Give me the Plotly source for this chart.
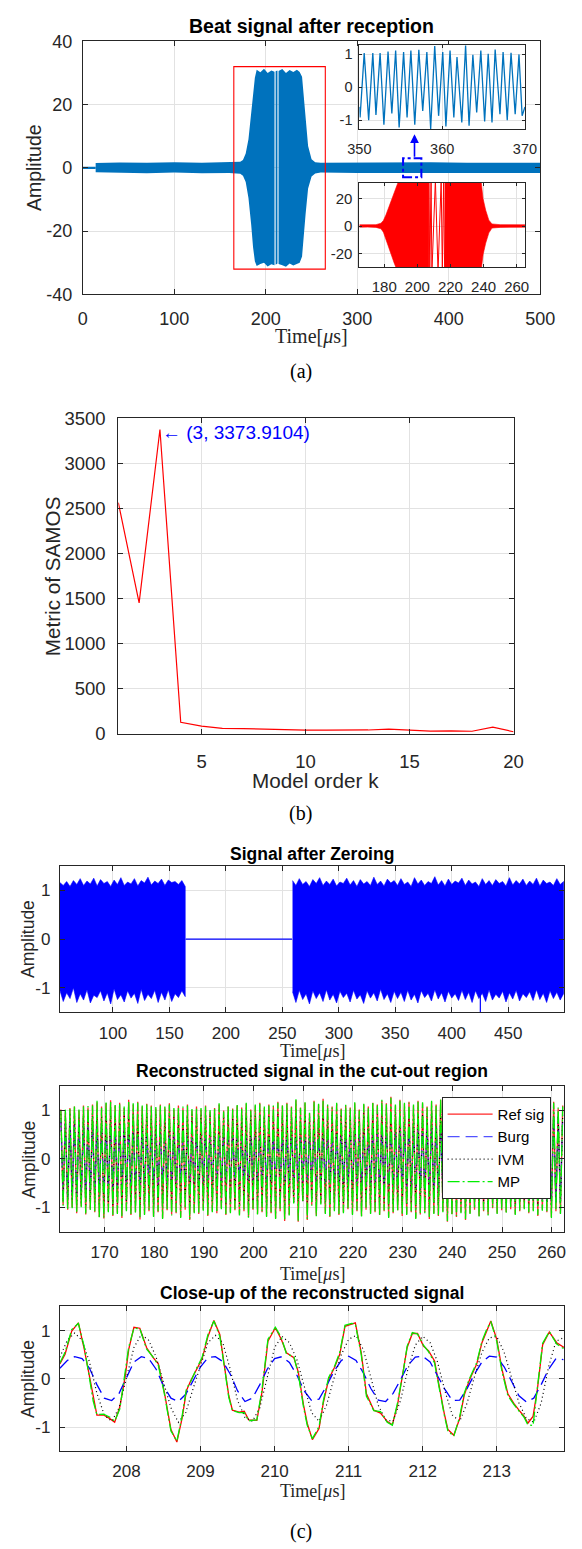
import numpy as np
import plotly.graph_objects as go

W, H = 582, 1549
FONT = "Liberation Sans, Arial, Helvetica, sans-serif"
SERIF = "Liberation Serif, Times New Roman, serif"
INK = "#262626"
GRID = "#e2e2e2"

# ======================= DATA =======================
# ---- (a) beat signal after reception: envelope of the dense signal (upper / lower extremes)
pre_t = [0, 14]
pre_v = [0, 0]
a1_t = [14, 40, 70, 100, 130, 160, 172, 175, 178, 181, 184, 186, 188, 190, 194, 198, 202, 206, 209.5]
a1_up = [1.5, 1.7, 1.6, 1.8, 1.6, 1.7, 1.9, 2.5, 4.5, 9.0, 17.0, 24.0, 28.5, 31.0, 30.2, 31.3, 30.0, 30.8, 30.4]
a1_lo = [-1.4, -1.6, -1.7, -1.5, -1.7, -1.6, -1.9, -2.5, -4.5, -9.5, -18.0, -25.0, -29.5, -31.0, -30.4, -30.0, -31.2, -30.5, -30.8]
a2_t = [210.7, 212.7]
a2_up = [30.5, 30.8]
a2_lo = [-30.6, -30.2]
a3_t = [213.9, 218, 222, 226, 230, 234, 237, 239.6, 241.2, 243.5, 246.2, 250, 254, 260, 300, 340, 380, 420, 460, 500]
a3_up = [30.6, 31.2, 30.0, 30.9, 30.3, 31.0, 30.3, 28.8, 23.5, 15.2, 6.9, 2.7, 1.8, 1.6, 1.7, 1.6, 1.8, 1.6, 1.7, 1.6]
a3_lo = [-30.4, -30.8, -31.3, -30.2, -30.9, -30.4, -30.0, -28.0, -22.5, -14.5, -6.5, -2.7, -1.8, -1.5, -1.6, -1.8, -1.6, -1.7, -1.6, -1.6]

# ---- (a) upper inset: 350-370 us (extrema of the waveform)
ins_t = [350.0, 350.08, 350.58, 351.12, 351.62, 352.0, 352.5, 352.96, 353.46, 353.92, 354.38, 354.8,
         355.34, 355.76, 356.22, 356.69, 357.18, 357.65, 358.15, 358.61, 359.1, 359.57, 360.07, 360.45,
         360.95, 361.41, 361.79, 362.37, 362.83, 363.25, 363.71, 364.17, 364.67, 365.13, 365.56, 366.02,
         366.4, 366.98, 367.36, 367.86, 368.32, 368.82, 369.28, 369.66, 370.0]
ins_v = [-0.6, -0.92, 1.03, -1.0, 1.03, -0.84, 1.03, -1.14, 1.08, -0.8, 1.11, -1.22,
         1.06, -0.92, 1.11, -1.14, 1.13, -0.72, 1.06, -1.27, 1.24, -0.87, 1.06, -1.19,
         1.11, -0.92, 0.91, -1.07, 1.26, -1.17, 0.98, -0.77, 1.11, -1.04, 1.01, -1.07,
         1.14, -0.82, 1.06, -1.0, 1.04, -0.82, 0.99, -0.87, -0.6]

# ---- (a) lower inset: 165-265 us (envelope + strokes in the notch)
r1_t = [165, 170, 175, 178, 179.5, 181, 183, 184.5, 186, 187.5, 189, 207.0]
r1_up = [0.9, 0.8, 1.0, 2.0, 4.0, 8.0, 14.5, 20.0, 25.0, 30.0, 34.0, 34.0]
r1_lo = [-0.9, -0.8, -1.0, -2.0, -4.5, -9.0, -16.0, -22.0, -27.0, -31.5, -34.0, -34.0]
rg_t = [207.0, 207.5, 208.3, 208.8, 210.9, 212.5, 214.4, 215.1, 215.9, 216.5]
rg_v = [34, -34, 34, -34, 34, -34, 34, -34, 34, -34]
r3_t = [216.5, 238.4, 239.7, 241.3, 243.2, 245.1, 250, 258, 265]
r3_up = [34.0, 34.0, 20.0, 11.5, 4.3, 1.5, 1.0, 0.9, 0.9]
r3_lo = [-34.0, -34.0, -21.0, -12.5, -5.0, -1.5, -1.0, -0.9, -0.9]
box_a = [165, 265, -32, 32]          # red selection box (t0, t1, y0, y1)
box_b = [350, 370, -3, 3]            # blue dashed selection box

# ---- (b) SAMOS metric vs model order
k_order = list(range(1, 21))
samos = [2563, 1451, 3373.9104, 128, 84, 59, 58, 50, 48, 40, 40, 40, 42, 52, 45, 30, 33, 28, 73, 22]

# ---- (c1) signal after zeroing: envelope of dense signal
z1_t = np.arange(53, 165, 3)
z1_up = [1.16, 1.10, 1.18, 1.08, 1.20, 1.12, 1.24, 1.10, 1.19, 1.13, 1.25, 1.09, 1.22, 1.14, 1.18, 1.08,
         1.21, 1.12, 1.26, 1.10, 1.17, 1.13, 1.24, 1.09, 1.20, 1.15, 1.27, 1.11, 1.19, 1.14, 1.23, 1.10,
         1.21, 1.16, 1.18, 1.12, 1.20, 1.08]
z1_lo = [-1.05, -1.28, -1.10, -1.22, -1.00, -1.30, -1.12, -1.25, -1.04, -1.31, -1.15, -1.20, -1.06, -1.27,
         -1.10, -1.33, -1.02, -1.24, -1.14, -1.29, -1.06, -1.21, -1.11, -1.32, -1.03, -1.26, -1.13, -1.22,
         -1.05, -1.30, -1.09, -1.25, -1.04, -1.28, -1.12, -1.20, -1.06, -1.18]
zero_t = [164.4, 258.5]
zero_v = [0, 0]
z2_t = np.arange(259, 500, 3)
z2_up = [1.20, 1.10, 1.24, 1.12, 1.18, 1.08, 1.22, 1.14, 1.26, 1.10,
         1.19, 1.12, 1.23, 1.09, 1.17, 1.14, 1.25, 1.11, 1.20, 1.08,
         1.22, 1.13, 1.18, 1.10, 1.27, 1.12, 1.19, 1.09, 1.23, 1.15,
         1.20, 1.10, 1.24, 1.12, 1.17, 1.08, 1.26, 1.13, 1.21, 1.10,
         1.18, 1.14, 1.28, 1.11, 1.20, 1.09, 1.23, 1.12, 1.19, 1.15,
         1.25, 1.10, 1.21, 1.13, 1.17, 1.08, 1.24, 1.12, 1.20, 1.10,
         1.22, 1.14, 1.18, 1.09, 1.26, 1.11, 1.20, 1.13, 1.23, 1.10,
         1.19, 1.12, 1.25, 1.09, 1.21, 1.14, 1.17, 1.10, 1.24, 1.12,
         1.18]
z2_lo = [-1.08, -1.30, -1.05, -1.24, -1.12, -1.33, -1.06, -1.22, -1.10, -1.28,
         -1.04, -1.25, -1.13, -1.31, -1.07, -1.20, -1.11, -1.29, -1.05, -1.23,
         -1.14, -1.32, -1.06, -1.21, -1.10, -1.27, -1.03, -1.24, -1.12, -1.30,
         -1.07, -1.22, -1.09, -1.28, -1.05, -1.25, -1.13, -1.31, -1.06, -1.20,
         -1.11, -1.27, -1.04, -1.23, -1.10, -1.29, -1.07, -1.21, -1.12, -1.26,
         -1.05, -1.24, -1.09, -1.30, -1.06, -1.22, -1.11, -1.28, -1.04, -1.25,
         -1.13, -1.21, -1.07, -1.29, -1.10, -1.23, -1.05, -1.27, -1.12, -1.20,
         -1.08, -1.26, -1.04, -1.24, -1.11, -1.30, -1.06, -1.22, -1.09, -1.25,
         -1.12]
spike_t = [425.3, 425.3]
spike_v = [0, -1.6]

# ---- (c2) reconstructed signals in the cut-out region: successive extrema
MID_T0, MID_HALF = 161.2, 0.455     # first extremum time, spacing between extrema (us)
ref_pk = [1.02, 0.98, 1.05, 1.08, 1.00, 1.10, 1.06, 1.12, 1.17, 1.08,
          1.15, 1.21, 1.10, 1.16, 1.05, 1.22, 1.12, 1.18, 1.08, 1.14,
          1.10, 1.04, 1.12, 1.06, 1.15, 1.02, 1.10, 1.05, 1.12, 1.00,
          1.08, 1.02, 1.10, 0.98, 1.05, 1.12, 1.00, 1.08, 1.04, 1.10,
          1.06, 1.14, 1.02, 1.10, 1.16, 1.05, 1.12, 1.08, 1.18, 1.10,
          1.16, 1.08, 1.21, 1.06, 1.16, 0.94, 1.20, 1.12, 1.24, 1.10,
          1.08, 1.14, 1.04, 1.10, 1.06, 1.15, 1.02, 1.12, 1.08, 1.16,
          1.12, 1.20, 1.15, 1.28, 1.10, 1.22, 1.14, 1.18, 1.10, 1.20,
          1.15, 1.08, 1.18, 1.12, 1.22, 1.06, 1.14, 1.10, 1.20, 1.08,
          1.12, 1.05, 1.15, 1.10, 1.20, 1.02, 1.12, 1.06, 1.14, 1.00,
          1.08, 1.04, 1.12, 1.06, 1.10, 1.00, 1.14, 1.05, 1.10, 1.18,
          1.04, 1.10]
ref_tr = [-0.95, -1.05, -1.00, -1.12, -0.98, -1.15, -1.04, -1.10, -1.20, -1.23,
          -1.08, -1.18, -1.12, -1.22, -1.06, -1.16, -1.10, -1.25, -1.14, -1.08,
          -1.18, -1.10, -1.22, -1.06, -1.15, -1.12, -1.20, -1.05, -1.26, -1.10,
          -1.14, -1.05, -1.18, -1.08, -1.12, -1.02, -1.16, -1.10, -1.06, -1.15,
          -1.08, -1.20, -1.05, -1.14, -1.10, -1.18, -1.12, -1.22, -1.08, -1.28,
          -1.15, -0.90, -1.30, -0.87, -1.26, -0.95, -1.17, -0.92, -1.12, -1.20,
          -1.06, -1.16, -1.10, -1.04, -1.14, -1.08, -1.18, -1.05, -1.12, -1.10,
          -1.16, -1.08, -1.20, -1.12, -1.06, -1.18, -1.14, -1.10, -1.22, -1.15,
          -1.10, -1.24, -1.12, -1.18, -1.08, -1.30, -1.14, -1.20, -1.10, -1.26,
          -1.12, -1.05, -1.18, -1.08, -1.15, -1.02, -1.12, -1.06, -1.10, -1.04,
          -1.14, -1.08, -1.02, -1.12, -1.06, -1.18, -1.05, -1.10, -1.20, -1.08,
          -1.12]
mp_pk = [1.00, 1.02, 1.03, 1.10, 1.02, 1.08, 1.09, 1.10, 1.20, 1.05,
         1.18, 1.19, 1.13, 1.14, 1.08, 1.20, 1.15, 1.16, 1.10, 1.12,
         1.08, 1.07, 1.10, 1.09, 1.12, 1.05, 1.08, 1.08, 1.10, 1.03,
         1.05, 1.05, 1.08, 1.01, 1.03, 1.15, 0.98, 1.10, 1.02, 1.13,
         1.04, 1.16, 1.00, 1.12, 1.14, 1.08, 1.10, 1.10, 1.16, 1.12,
         1.14, 1.06, 1.23, 1.05, 1.18, 0.95, 1.18, 1.14, 1.22, 1.12,
         1.06, 1.16, 1.02, 1.12, 1.04, 1.17, 1.00, 1.14, 1.06, 1.18,
         1.10, 1.22, 1.13, 1.26, 1.12, 1.20, 1.16, 1.16, 1.12, 1.18,
         1.17, 1.06, 1.20, 1.10, 1.24, 1.04, 1.16, 1.08, 1.22, 1.06,
         1.14, 1.03, 1.17, 1.08, 1.22, 1.00, 1.14, 1.04, 1.16, 0.98,
         1.10, 1.02, 1.14, 1.04, 1.12, 0.98, 1.16, 1.03, 1.12, 1.16,
         1.06, 1.08]
mp_tr = [-0.97, -1.03, -1.02, -1.10, -1.00, -1.13, -1.06, -1.08, -1.22, -1.21,
         -1.10, -1.16, -1.14, -1.20, -1.08, -1.14, -1.12, -1.23, -1.16, -1.06,
         -1.20, -1.08, -1.24, -1.04, -1.17, -1.10, -1.22, -1.03, -1.24, -1.12,
         -1.12, -1.07, -1.16, -1.10, -1.10, -1.04, -1.14, -1.12, -1.04, -1.17,
         -1.06, -1.22, -1.03, -1.16, -1.08, -1.20, -1.10, -1.24, -1.06, -1.26,
         -1.17, -0.92, -1.28, -0.89, -1.24, -0.97, -1.19, -0.94, -1.14, -1.18,
         -1.08, -1.14, -1.12, -1.02, -1.16, -1.06, -1.20, -1.03, -1.14, -1.08,
         -1.18, -1.06, -1.22, -1.10, -1.08, -1.16, -1.16, -1.08, -1.24, -1.13,
         -1.12, -1.22, -1.14, -1.16, -1.10, -1.28, -1.16, -1.18, -1.12, -1.24,
         -1.14, -1.03, -1.20, -1.06, -1.17, -1.00, -1.14, -1.04, -1.12, -1.02,
         -1.16, -1.06, -1.04, -1.10, -1.08, -1.16, -1.07, -1.08, -1.22, -1.06,
         -1.14]
burg_pk = [0.80, 0.74, 0.78, 0.70, 0.75, 0.68, 0.72, 0.65, 0.69, 0.62,
           0.66, 0.60, 0.63, 0.57, 0.61, 0.55, 0.58, 0.53, 0.56, 0.51,
           0.54, 0.50, 0.53, 0.48, 0.52, 0.47, 0.50, 0.46, 0.49, 0.45,
           0.48, 0.45, 0.47, 0.44, 0.48, 0.45, 0.46, 0.44, 0.47, 0.45,
           0.46, 0.44, 0.47, 0.45, 0.46, 0.44, 0.47, 0.46, 0.45, 0.46,
           0.46, 0.46, 0.45, 0.46, 0.47, 0.46, 0.47, 0.47, 0.46, 0.48,
           0.47, 0.49, 0.48, 0.50, 0.48, 0.51, 0.50, 0.52, 0.51, 0.54,
           0.52, 0.55, 0.54, 0.57, 0.55, 0.59, 0.57, 0.61, 0.59, 0.63,
           0.61, 0.65, 0.63, 0.67, 0.65, 0.69, 0.67, 0.71, 0.69, 0.73,
           0.71, 0.75, 0.73, 0.77, 0.75, 0.79, 0.77, 0.81, 0.79, 0.83,
           0.81, 0.85, 0.83, 0.86, 0.84, 0.88, 0.86, 0.89, 0.87, 0.90,
           0.88, 0.91]
burg_tr = [-0.76, -0.80, -0.72, -0.77, -0.69, -0.73, -0.66, -0.70, -0.63, -0.67,
           -0.60, -0.64, -0.58, -0.61, -0.55, -0.59, -0.53, -0.56, -0.51, -0.54,
           -0.49, -0.53, -0.48, -0.51, -0.47, -0.50, -0.46, -0.49, -0.45, -0.48,
           -0.46, -0.48, -0.45, -0.47, -0.44, -0.48, -0.45, -0.47, -0.46, -0.45,
           -0.47, -0.45, -0.46, -0.48, -0.45, -0.47, -0.46, -0.45, -0.48, -0.46,
           -0.45, -0.47, -0.48, -0.47, -0.45, -0.48, -0.48, -0.47, -0.49, -0.47,
           -0.48, -0.50, -0.49, -0.51, -0.50, -0.53, -0.51, -0.54, -0.53, -0.56,
           -0.54, -0.57, -0.56, -0.59, -0.57, -0.61, -0.59, -0.62, -0.61, -0.64,
           -0.62, -0.66, -0.64, -0.68, -0.66, -0.70, -0.68, -0.72, -0.70, -0.74,
           -0.72, -0.76, -0.74, -0.78, -0.76, -0.80, -0.78, -0.82, -0.80, -0.84,
           -0.82, -0.85, -0.84, -0.87, -0.85, -0.88, -0.86, -0.89, -0.88, -0.90,
           -0.89]
ivm_pk = [0.92, 0.88, 0.95, 0.90, 0.86, 0.93, 0.89, 0.94, 0.91, 0.87,
          0.95, 0.90, 0.92, 0.88, 0.96, 0.89, 0.93, 0.87, 0.91, 0.94,
          0.89, 0.92, 0.86, 0.90, 0.93, 0.88, 0.91, 0.85, 0.90, 0.92,
          0.87, 0.91, 0.88, 0.93, 0.86, 0.90, 0.89, 0.92, 0.88, 0.91,
          0.90, 0.87, 0.92, 0.89, 0.93, 0.88, 0.91, 0.90, 0.94, 0.89,
          0.92, 0.90, 0.90, 0.88, 0.90, 0.88, 0.88, 0.90, 0.90, 0.88,
          0.91, 0.89, 0.93, 0.87, 0.92, 0.90, 0.88, 0.94, 0.89, 0.91,
          0.93, 0.90, 0.95, 0.92, 0.97, 0.89, 0.94, 0.91, 0.93, 0.90,
          0.92, 0.88, 0.94, 0.90, 0.96, 0.87, 0.93, 0.89, 0.95, 0.88,
          0.91, 0.87, 0.93, 0.89, 0.95, 0.86, 0.92, 0.88, 0.90, 0.85,
          0.89, 0.86, 0.92, 0.88, 0.90, 0.84, 0.93, 0.87, 0.91, 0.95,
          0.88, 0.90]
ivm_tr = [-0.88, -0.92, -0.86, -0.94, -0.90, -0.95, -0.88, -0.93, -0.97, -0.99,
          -0.91, -0.96, -0.93, -0.98, -0.89, -0.95, -0.92, -1.00, -0.94, -0.90,
          -0.96, -0.91, -0.98, -0.89, -0.94, -0.92, -0.97, -0.88, -1.00, -0.91,
          -0.94, -0.89, -0.96, -0.90, -0.93, -0.87, -0.95, -0.91, -0.89, -0.94,
          -0.90, -0.97, -0.88, -0.94, -0.91, -0.96, -0.92, -0.98, -0.90, -0.99,
          -0.88, -0.90, -0.88, -0.88, -0.90, -0.88, -0.88, -0.86, -0.90, -0.96,
          -0.89, -0.95, -0.91, -0.88, -0.94, -0.90, -0.96, -0.88, -0.93, -0.91,
          -0.95, -0.90, -0.97, -0.92, -0.89, -0.96, -0.93, -0.91, -0.98, -0.94,
          -0.91, -0.99, -0.92, -0.96, -0.90, -1.02, -0.93, -0.97, -0.91, -1.00,
          -0.92, -0.88, -0.96, -0.90, -0.94, -0.86, -0.92, -0.89, -0.91, -0.87,
          -0.94, -0.89, -0.86, -0.92, -0.88, -0.96, -0.87, -0.91, -0.98, -0.89,
          -0.93]

# ---- (c3) close-up of the reconstructed signal
t_cz = [207.10, 207.17, 207.26, 207.35, 207.43, 207.48, 207.55, 207.60, 207.69, 207.77,
        207.84, 207.91, 207.98, 208.03, 208.10, 208.18, 208.27, 208.36, 208.43, 208.51,
        208.60, 208.68, 208.75, 208.81, 208.87, 208.94, 209.02, 209.10, 209.18, 209.26,
        209.33, 209.38, 209.43, 209.52, 209.59, 209.65, 209.76, 209.83, 209.91, 210.01,
        210.09, 210.16, 210.26, 210.32, 210.39, 210.44, 210.51, 210.60, 210.66, 210.73,
        210.81, 210.88, 210.95, 211.04, 211.09, 211.17, 211.24, 211.34, 211.43, 211.52,
        211.59, 211.66, 211.74, 211.79, 211.86, 211.93, 212.01, 212.08, 212.16, 212.22,
        212.29, 212.34, 212.42, 212.50, 212.56, 212.63, 212.73, 212.80, 212.86, 212.92,
        213.00, 213.07, 213.15, 213.23, 213.30, 213.37, 213.42, 213.49, 213.55, 213.62,
        213.71, 213.81, 213.91]
ref_cz = [0.31, 0.51, 0.99, 1.16, 0.61, 0.20, -0.41, -0.75, -0.75, -0.82,
          -0.90, -0.58, 0.03, 0.61, 1.07, 1.05, 0.65, 0.44, 0.31, -0.27,
          -1.05, -1.31, -0.82, -0.24, -0.03, 0.17, 0.41, 0.88, 1.21, 0.92,
          0.20, -0.34, -0.65, -0.69, -0.67, -0.85, -0.86, -0.27, 0.78, 1.06,
          0.82, 0.54, 0.44, 0.14, -0.54, -0.92, -1.26, -1.03, -0.48, -0.01,
          0.24, 0.51, 1.09, 1.14, 1.16, 0.54, -0.31, -0.65, -0.71, -0.88,
          -0.95, -0.54, 0.14, 0.65, 0.94, 0.94, 0.68, 0.58, 0.37, -0.14,
          -0.71, -1.05, -1.17, -0.82, -0.34, -0.03, 0.31, 0.75, 0.99, 1.20,
          0.82, 0.20, -0.31, -0.51, -0.65, -0.78, -0.92, -0.78, -0.20, 0.71,
          0.97, 0.75, 0.65]
mp_cz = [0.33, 0.55, 1.02, 1.15, 0.66, 0.16, -0.46, -0.74, -0.73, -0.79,
         -0.88, -0.62, 0.08, 0.66, 1.05, 1.04, 0.62, 0.45, 0.28, -0.30,
         -1.08, -1.29, -0.78, -0.20, -0.05, 0.20, 0.44, 0.92, 1.20, 0.88,
         0.16, -0.38, -0.66, -0.70, -0.70, -0.87, -0.85, -0.22, 0.82, 1.07,
         0.86, 0.52, 0.46, 0.10, -0.58, -0.96, -1.24, -0.99, -0.44, 0.03,
         0.26, 0.55, 1.11, 1.15, 1.14, 0.50, -0.36, -0.66, -0.68, -0.90,
         -0.96, -0.50, 0.18, 0.68, 0.96, 0.93, 0.70, 0.56, 0.33, -0.18,
         -0.74, -1.08, -1.19, -0.78, -0.30, 0.00, 0.34, 0.78, 1.01, 1.19,
         0.78, 0.16, -0.35, -0.53, -0.66, -0.80, -0.95, -0.97, -0.16, 0.74,
         0.98, 0.72, 0.62]
t_grid = np.round(np.arange(207.1, 213.95, 0.1), 2)
burg_cz = [0.22, 0.38, 0.46, 0.42, 0.22, -0.12, -0.40, -0.45, -0.30, 0.02,
           0.35, 0.46, 0.42, 0.20, -0.15, -0.40, -0.47, -0.32, -0.02, 0.25,
           0.44, 0.46, 0.36, 0.10, -0.25, -0.47, -0.40, -0.12, 0.20, 0.42,
           0.46, 0.34, 0.08, -0.25, -0.45, -0.42, -0.15, 0.15, 0.38, 0.47,
           0.38, 0.12, -0.20, -0.44, -0.47, -0.30, -0.02, 0.28, 0.45, 0.47,
           0.35, 0.08, -0.22, -0.45, -0.44, -0.20, 0.10, 0.35, 0.47, 0.45,
           0.25, -0.05, -0.35, -0.48, -0.40, -0.12, 0.20, 0.42, 0.40]
ivm_cz = [0.45, 0.80, 0.95, 0.80, 0.35, -0.30, -0.75, -0.88, -0.60, 0.00,
          0.65, 0.92, 0.80, 0.45, -0.05, -0.60, -0.90, -0.70, -0.20, 0.30,
          0.75, 0.90, 0.75, 0.20, -0.45, -0.80, -0.88, -0.60, 0.05, 0.65,
          0.88, 0.75, 0.40, -0.15, -0.70, -0.88, -0.55, 0.00, 0.50, 0.82,
          0.90, 0.60, 0.00, -0.55, -0.85, -0.88, -0.45, 0.20, 0.70, 0.88,
          0.75, 0.35, -0.25, -0.75, -0.88, -0.50, 0.05, 0.55, 0.85, 0.88,
          0.55, 0.00, -0.50, -0.82, -0.90, -0.50, 0.25, 0.78, 0.85]

# tick labels
ticks_a_x = [0, 100, 200, 300, 400, 500]
ticks_a_y = [-40, -20, 0, 20, 40]
ticks_i1_x = [350, 360, 370]
ticks_i1_y = [-1, 0, 1]
ticks_i2_x = [180, 200, 220, 240, 260]
ticks_i2_y = [-20, 0, 20]
ticks_b_x = [5, 10, 15, 20]
ticks_b_y = [0, 500, 1000, 1500, 2000, 2500, 3000, 3500]
ticks_c1_x = [100, 150, 200, 250, 300, 350, 400, 450]
ticks_c2_x = [170, 180, 190, 200, 210, 220, 230, 240, 250, 260]
ticks_c3_x = [208, 209, 210, 211, 212, 213]
ticks_c_y = [-1, 0, 1]

for a, b in [(a1_t, a1_up), (a1_t, a1_lo), (a3_t, a3_up), (a3_t, a3_lo), (ins_t, ins_v),
             (r1_t, r1_up), (r1_t, r1_lo), (r3_t, r3_up), (r3_t, r3_lo), (rg_t, rg_v),
             (z1_t, z1_up), (z1_t, z1_lo), (z2_t, z2_up), (z2_t, z2_lo),
             (t_cz, ref_cz), (t_cz, mp_cz), (t_grid, burg_cz), (t_grid, ivm_cz)]:
    assert len(a) == len(b), (len(a), len(b))
for pk, tr in [(ref_pk, ref_tr), (mp_pk, mp_tr), (burg_pk, burg_tr), (ivm_pk, ivm_tr)]:
    assert len(pk) == 112 and len(tr) == 111, (len(pk), len(tr))

# ======================= BUILD =======================
def band(t, up, lo):
    t = list(t)
    return t + t[::-1], list(up) + list(lo)[::-1]


def interleave(pk, tr):
    out = [None] * (len(pk) + len(tr))
    out[0::2] = pk
    out[1::2] = tr
    return out


t_mid = np.round(MID_T0 + MID_HALF * np.arange(223), 3)


def px_x(px):
    return px / W


def px_y(py):
    return 1 - py / H


fig = go.Figure()

BLUE_A = "#0072BD"
# ---- (a) main
fig.add_trace(go.Scatter(x=pre_t, y=pre_v, mode="lines", line=dict(color=BLUE_A, width=2.2),
                         xaxis="x", yaxis="y", showlegend=False))
for t, up, lo in [(a1_t, a1_up, a1_lo), (a2_t, a2_up, a2_lo), (a3_t, a3_up, a3_lo)]:
    xx, yy = band(t, up, lo)
    fig.add_trace(go.Scatter(x=xx, y=yy, mode="lines", fill="toself", fillcolor=BLUE_A,
                             line=dict(color=BLUE_A, width=0), xaxis="x", yaxis="y", showlegend=False))
# ---- (a) inset 1
fig.add_trace(go.Scatter(x=ins_t, y=ins_v, mode="lines", line=dict(color=BLUE_A, width=1.3),
                         xaxis="x2", yaxis="y2", showlegend=False))
# ---- (a) inset 2
for t, up, lo in [(r1_t, r1_up, r1_lo), (r3_t, r3_up, r3_lo)]:
    xx, yy = band(t, up, lo)
    fig.add_trace(go.Scatter(x=xx, y=yy, mode="lines", fill="toself", fillcolor="#FF0000",
                             line=dict(color="#FF0000", width=0.6), xaxis="x3", yaxis="y3", showlegend=False))
fig.add_trace(go.Scatter(x=rg_t, y=rg_v, mode="lines", line=dict(color="#FF0000", width=1.0),
                         xaxis="x3", yaxis="y3", showlegend=False))

# ---- (b)
fig.add_trace(go.Scatter(x=k_order, y=samos, mode="lines", line=dict(color="#FF0000", width=1.2),
                         xaxis="x4", yaxis="y4", showlegend=False))

# ---- (c1)
for t, up, lo in [(z1_t, z1_up, z1_lo), (z2_t, z2_up, z2_lo)]:
    xx, yy = band(t, up, lo)
    fig.add_trace(go.Scatter(x=xx, y=yy, mode="lines", fill="toself", fillcolor="#0000FF",
                             line=dict(color="#0000FF", width=0.6), xaxis="x5", yaxis="y5", showlegend=False))
fig.add_trace(go.Scatter(x=zero_t, y=zero_v, mode="lines", line=dict(color="#0000FF", width=1.2),
                         xaxis="x5", yaxis="y5", showlegend=False))
fig.add_trace(go.Scatter(x=spike_t, y=spike_v, mode="lines", line=dict(color="#0000FF", width=1.2),
                         xaxis="x5", yaxis="y5", showlegend=False))

# ---- (c2) and (c3)
styles = {
    "Ref sig": dict(color="rgba(255,0,0,0.85)", width=1.3, dash="solid"),
    "Burg": dict(color="rgba(40,40,255,0.8)", width=1.3, dash="12px,6px"),
    "IVM": dict(color="#000000", width=1.2, dash="1px,3px"),
    "MP": dict(color="#00EE00", width=1.3, dash="12px,3px,2px,3px"),
}
mid_series = [("Ref sig", ref_pk, ref_tr), ("Burg", burg_pk, burg_tr),
              ("IVM", ivm_pk, ivm_tr), ("MP", mp_pk, mp_tr)]
for name, pk, tr in mid_series:
    fig.add_trace(go.Scatter(x=t_mid, y=interleave(pk, tr), mode="lines", name=name,
                             line=styles[name], xaxis="x6", yaxis="y6", showlegend=True))
close_series = [("Ref sig", t_cz, ref_cz), ("Burg", t_grid, burg_cz),
                ("IVM", t_grid, ivm_cz), ("MP", t_cz, mp_cz)]
for name, t, v in close_series:
    st = dict(styles[name])
    if name == "Ref sig":
        st["color"] = "#FF0000"
    if name == "Burg":
        st["color"] = "#0000FF"
    fig.add_trace(go.Scatter(x=t, y=v, mode="lines", name=name, line=st,
                             xaxis="x7", yaxis="y7", showlegend=False))


# ======================= LAYOUT =======================
def axis(dom, rng, anchor, size, vals, standoff, ticklen=5):
    return dict(domain=dom, range=rng, anchor=anchor, showline=True, linecolor=INK, linewidth=1,
                mirror="ticks", ticks="inside", ticklen=ticklen, tickwidth=1, tickcolor=INK,
                showgrid=True, gridcolor=GRID, gridwidth=1, zeroline=False,
                tickmode="array", tickvals=vals, ticktext=[str(v) for v in vals],
                tickfont=dict(family=FONT, size=size, color=INK), ticklabelstandoff=standoff,
                fixedrange=True)


def xdom(l, r):
    return [px_x(l), px_x(r)]


def ydom(t, b):
    return [px_y(b), px_y(t)]


C_L, C_R = 50.2, 579.0
layout = dict(
    width=W, height=H, margin=dict(l=0, r=0, t=0, b=0),
    paper_bgcolor="white", plot_bgcolor="white",
    xaxis=axis(xdom(74.3, 554), [0, 500], "y", 18, ticks_a_x, 8),
    yaxis=axis(ydom(30.7, 287.3), [-40, 40], "x", 18, ticks_a_y, 6),
    xaxis2=axis(xdom(364.3, 537.9), [350, 370], "y2", 14.5, ticks_i1_x, 6, 3),
    yaxis2=axis(ydom(34.3, 120), [-1.28, 1.28], "x2", 14.5, ticks_i1_y, 3, 3),
    xaxis3=axis(xdom(364.3, 537.9), [165, 265], "y3", 15, ticks_i2_x, 6, 3),
    yaxis3=axis(ydom(174, 260), [-30.3, 31.7], "x3", 15, ticks_i2_y, 3, 3),
    xaxis4=axis(xdom(111.5, 526), [1, 20], "y4", 18.5, ticks_b_x, 11),
    yaxis4=axis(ydom(412.7, 732.7), [0, 3500], "x4", 18.5, ticks_b_y, 8),
    xaxis5=axis(xdom(C_L, C_R), [53, 499.5], "y5", 17, ticks_c1_x, 5),
    yaxis5=axis(ydom(866.7, 1015), [-1.5, 1.5], "x5", 17, ticks_c_y, 5),
    xaxis6=axis(xdom(C_L, C_R), [161, 262.5], "y6", 17, ticks_c2_x, 5),
    yaxis6=axis(ydom(1090, 1237.3), [-1.5, 1.5], "x6", 17, ticks_c_y, 5),
    xaxis7=axis(xdom(C_L, C_R), [207.1, 213.91], "y7", 17, ticks_c3_x, 4),
    yaxis7=axis(ydom(1313.3, 1460), [-1.5, 1.5], "x7", 17, ticks_c_y, 5),
    legend=dict(x=px_x(450.5), y=px_y(1100.7), xanchor="left", yanchor="top",
                bgcolor="white", bordercolor=INK, borderwidth=1,
                font=dict(family=FONT, size=15, color="#000000"), itemwidth=45,
                tracegroupgap=0),
    showlegend=True,
)
fig.update_layout(**layout)

# selection boxes in (a)
fig.add_shape(type="rect", xref="x", yref="y", x0=box_a[0], x1=box_a[1], y0=box_a[2], y1=box_a[3],
              line=dict(color="#FF0000", width=1.1), layer="above")
fig.add_shape(type="rect", xref="x", yref="y", x0=box_b[0], x1=box_b[1], y0=box_b[2], y1=box_b[3],
              line=dict(color="#0000FF", width=2, dash="dashdot"), layer="above")
fig.add_annotation(x=362.5, y=10.6, ax=362.5, ay=box_b[3], xref="x", yref="y", axref="x", ayref="y",
                   text="", showarrow=True, arrowhead=2, arrowsize=1.1, arrowwidth=1.6,
                   arrowcolor="#0000FF", standoff=0, startstandoff=0)


def label(text, xpx, ypx, size, bold=False, serif=False, angle=0, color="#000000"):
    fam = SERIF if serif else FONT
    fig.add_annotation(x=px_x(xpx), y=px_y(ypx), xref="paper", yref="paper",
                       text=f"<b>{text}</b>" if bold else text, showarrow=False,
                       xanchor="center", yanchor="middle", textangle=angle,
                       font=dict(family=fam, size=size, color=color))


TIME = "Time[<i>\u03bc</i>s]"
# (a)
label("Beat signal after reception", 314, 15, 19.5, bold=True)
label("Amplitude", 23, 158.3, 19.5, angle=-90, color=INK)
label(TIME, 314, 330, 20, serif=True, color=INK)
label("(a)", 303, 365, 20, serif=True)
# (b)
label("Metric of SAMOS", 42.8, 573.3, 20.7, angle=-90, color=INK)
label("Model order k", 318.4, 780, 20.7, color=INK)
label("(b)", 303, 813.3, 20, serif=True)
fig.add_annotation(x=3, y=3373.9104, xref="x4", yref="y4", text="\u2190 (3, 3373.9104)",
                   showarrow=False, xanchor="left", yanchor="middle", yshift=-3,
                   font=dict(family=FONT, size=19, color="#0000FF"))
# (c)
label("Signal after Zeroing", 314.6, 855, 17.5, bold=True)
label("Reconstructed signal in the cut-out region", 314.6, 1075, 17.5, bold=True)
label("Close-up of the reconstructed signal", 314.6, 1300, 17.5, bold=True)
for yc in [940.7, 1164.3, 1386.7]:
    label("Amplitude", 16.8, yc, 17.5, angle=-90, color=INK)
for yc in [1054, 1280, 1500]:
    label(TIME, 315, yc, 18, serif=True, color=INK)
label("(c)", 303, 1541.7, 20, serif=True)

fig.write_html("out.html")
